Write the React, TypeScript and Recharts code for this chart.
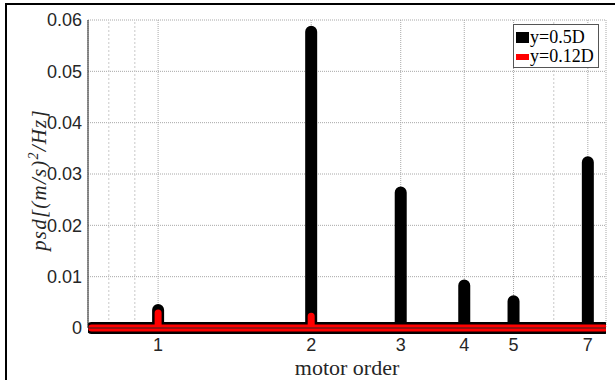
import React from 'react';
import { LineChart, Line, XAxis, YAxis, CartesianGrid, ReferenceLine, Legend } from 'recharts';

// motor order (log axis) and psd values
const orderTicks = [1, 2, 3, 4, 5, 7];
const minorOrders = [0.8, 0.9, 6];
const psdTicks = [0, 0.01, 0.02, 0.03, 0.04, 0.05, 0.06];
const seriesNames = ['y=0.5D', 'y=0.12D'];

const centerOrders = [0.74, 1, 1, 1, 2, 2, 2, 3, 3, 3, 4, 4, 4, 5, 5, 5, 7, 7, 7, 7.55];
const centerPsd = [0, 0, 0.0035, 0, 0, 0.0577, 0, 0, 0.0264, 0, 0, 0.0083, 0, 0, 0.0052, 0, 0, 0.0323, 0, 0];

const wallOrders = [0.74, 1, 1, 1, 2, 2, 2, 7.55];
const wallPsd = [0, 0, 0.0029, 0, 0, 0.0023, 0, 0];

const centerData = centerOrders.map((x, i) => ({ x, y: centerPsd[i] }));
const wallData = wallOrders.map((x, i) => ({ x, y: wallPsd[i] }));

const xDomain: [number, number] = [0.728, 7.6];
const axisColor = '#262626';
const tickFont = { fontFamily: '"Liberation Sans", Arial, sans-serif', fontSize: 18, fill: axisColor };
const serif = '"Liberation Serif", "Times New Roman", serif';

const LegendBox = (props: any) => {
  const payload = [...(props.payload || [])].sort(
    (a: any, b: any) => seriesNames.indexOf(a.value) - seriesNames.indexOf(b.value)
  );
  return (
    <div style={{ border: '1px solid #555', background: '#fff', padding: '3px 4px 1px 2px', fontFamily: serif, fontSize: 18, lineHeight: '19px', color: '#000' }}>
      {payload.map((p: any) => (
        <div key={p.value} style={{ display: 'flex', alignItems: 'center' }}>
          <span style={{ display: 'inline-block', width: 13, height: p.color === '#ff0000' ? 6 : 11, background: p.color, marginRight: 1 }} />
          <span>{p.value}</span>
        </div>
      ))}
    </div>
  );
};

const YLabel = () => (
  <text transform="translate(46,180) rotate(-90)" textAnchor="middle" fontFamily={serif} fontSize={21} fontStyle="italic" fill={axisColor} letterSpacing={1.2}>
    psd[(m/s)<tspan dy={-8} fontSize={14}>2</tspan>
    <tspan dy={8}>/Hz]</tspan>
  </text>
);

const XLabel = () => (
  <text x={347} y={375} textAnchor="middle" fontFamily={serif} fontSize={22} fill={axisColor}>
    motor order
  </text>
);

export default function App() {
  return (
    <div style={{ position: 'absolute', left: 0, top: 0, width: 615, height: 380, background: '#fff', overflow: 'hidden' }}>
      <div style={{ position: 'absolute', left: 5, top: 3, width: 700, height: 500, borderLeft: '2px solid #000', borderTop: '2px solid #000' }} />
      <div style={{ position: 'absolute', left: 0, top: 0 }}>
        <LineChart width={615} height={380} margin={{ top: 20, right: 9, left: 0, bottom: 0 }}>
          <CartesianGrid stroke="#a8a8a8" strokeDasharray="1 1" />
          {minorOrders.map((v) => (
            <ReferenceLine key={v} x={v} stroke="#c8c8c8" strokeDasharray="2 2" />
          ))}
          <XAxis
            dataKey="x"
            type="number"
            scale="log"
            domain={xDomain}
            ticks={orderTicks}
            allowDataOverflow
            height={52}
            tickLine={false}
            tickSize={0}
            tickMargin={10}
            tick={tickFont}
            stroke={axisColor}
            label={{ content: () => <XLabel /> }}
          />
          <XAxis
            xAxisId="top"
            orientation="top"
            type="number"
            scale="log"
            domain={xDomain}
            ticks={orderTicks}
            allowDataOverflow
            height={0}
            tick={false}
            tickSize={-5}
            stroke={axisColor}
          />
          <YAxis
            type="number"
            domain={[0, 0.06]}
            ticks={psdTicks}
            width={88}
            tickLine={false}
            tickSize={0}
            tickMargin={6}
            tick={tickFont}
            tickFormatter={(v: number) => (v === 0 ? '0' : v.toFixed(2))}
            stroke={axisColor}
            label={{ content: () => <YLabel /> }}
          />
          <YAxis
            yAxisId="right"
            orientation="right"
            type="number"
            domain={[0, 0.06]}
            ticks={psdTicks}
            width={0}
            tick={false}
            tickSize={-5}
            stroke={axisColor}
          />
          <Legend
            layout="vertical"
            align="center"
            verticalAlign="middle"
            wrapperStyle={{ left: 513, top: 24, width: 'auto' }}
            content={<LegendBox />}
          />
          <Line
            data={centerData}
            dataKey="y"
            name="y=0.5D"
            stroke="#000000"
            strokeWidth={12}
            strokeLinecap="round"
            strokeLinejoin="round"
            dot={false}
            activeDot={false}
            isAnimationActive={false}
          />
          <Line
            data={wallData}
            dataKey="y"
            name="y=0.12D"
            stroke="#ff0000"
            strokeWidth={7}
            strokeLinecap="round"
            strokeLinejoin="round"
            dot={false}
            activeDot={false}
            isAnimationActive={false}
          />
        </LineChart>
      </div>
    </div>
  );
}
